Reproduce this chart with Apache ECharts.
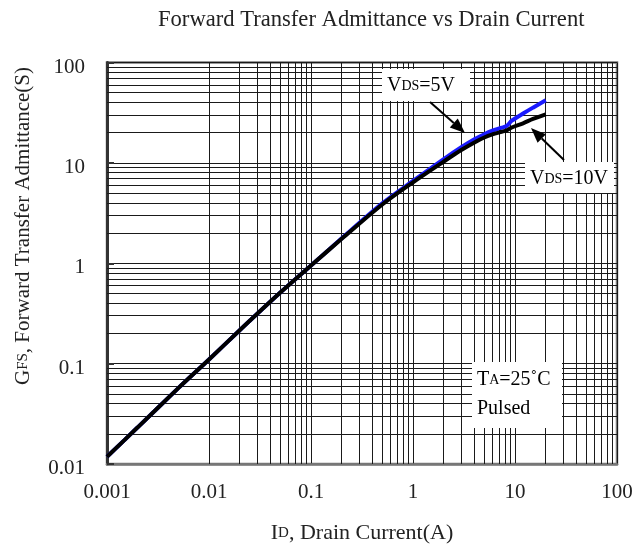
<!DOCTYPE html>
<html>
<head>
<meta charset="utf-8">
<script src="https://cdn.jsdelivr.net/npm/echarts@6/dist/echarts.min.js"></script>
<style>
html,body{margin:0;padding:0;background:#fff;}
#chart{width:638px;height:544px;}
</style>
</head>
<body>
<div id="chart"></div>
<script>
// ---- data ----
const drainCurrent = [0.001, 0.002, 0.005, 0.01, 0.02, 0.05, 0.1, 0.2, 0.5, 1, 2, 3, 4, 5, 6, 7.4, 8.3, 9.3, 12, 15, 20];
const gfs5V  = [0.0118, 0.0232, 0.057, 0.11, 0.215, 0.51, 0.95, 1.77, 3.95, 6.6, 10.9, 14.4, 17.2, 19.3, 20.9, 22.4, 23.4, 26.3, 31, 35.5, 42];
const gfs10V = [0.0118, 0.0232, 0.057, 0.11, 0.215, 0.51, 0.95, 1.75, 3.85, 6.4, 10.3, 13.5, 16.0, 17.9, 19.2, 20.4, 21.1, 22.5, 24.8, 27.4, 30.5];
const xTickLabels = ['0.001', '0.01', '0.1', '1', '10', '100'];
const yTickLabels = ['0.01', '0.1', '1', '10', '100'];
const titleText = 'Forward Transfer Admittance vs Drain Current';

// minor grid values (2..9 within each decade)
const minorX = [], minorY = [];
for (let e = -3; e < 2; e++) for (let m = 2; m <= 9; m++) minorX.push(m * Math.pow(10, e));
for (let e = -2; e < 2; e++) for (let m = 2; m <= 9; m++) minorY.push(m * Math.pow(10, e));

const FONT = '"Liberation Serif", "DejaVu Serif", serif';
const GRIDC = '#1a1a1a';

const chart = echarts.init(document.getElementById('chart'), null, {renderer: 'canvas'});

function arrow(x1, y1, x2, y2) {
  const dx = x2 - x1, dy = y2 - y1, L = Math.hypot(dx, dy);
  const ux = dx / L, uy = dy / L, hl = 15, hw = 6;
  const bx = x2 - hl * ux, by = y2 - hl * uy;
  const px = -uy * hw, py = ux * hw;
  return [
    {type: 'line', z: 120, shape: {x1: x1, y1: y1, x2: bx, y2: by}, style: {stroke: '#000', lineWidth: 2}},
    {type: 'polygon', z: 120, shape: {points: [[x2, y2], [bx + px, by + py], [bx - px, by - py]]}, style: {fill: '#000'}}
  ];
}

const rich = {
  b: {fontFamily: FONT, fontSize: 20, color: '#111'},
  s: {fontFamily: FONT, fontSize: 14, color: '#111'}
};

const option = {
  animation: false,
  backgroundColor: '#fff',
  grid: {left: 107, right: 21, top: 62.5, bottom: 80, containLabel: false, outerBoundsMode: 'none',
    show: true, borderColor: '#777', borderWidth: 2.5, backgroundColor: 'transparent'},
  xAxis: {
    type: 'log', logBase: 10, min: 0.001, max: 100,
    name: '{b|I}{s|D}{b|, Drain Current(A)}',
    nameLocation: 'middle', nameGap: 58,
    nameTextStyle: {rich: {b: {fontFamily: FONT, fontSize: 22, color: '#222'}, s: {fontFamily: FONT, fontSize: 15, color: '#222'}}},
    axisLine: {show: true, lineStyle: {color: '#777', width: 2.5}},
    axisTick: {show: false},
    axisLabel: {margin: 18, fontFamily: FONT, fontSize: 21, color: '#222',
      formatter: v => xTickLabels[Math.round(Math.log10(v)) + 3]},
    splitLine: {show: true, lineStyle: {color: GRIDC, width: 1}},
    minorTick: {show: false}, minorSplitLine: {show: false}
  },
  yAxis: {
    type: 'log', logBase: 10, min: 0.01, max: 100,
    axisLine: {show: true, lineStyle: {color: '#333', width: 3}},
    axisTick: {show: true, inside: true, length: 7, lineStyle: {color: '#333', width: 2}},
    axisLabel: {margin: 22, color: '#222',
      rich: {t: {fontFamily: FONT, fontSize: 21, color: '#222', padding: [9, 0, 0, 0]}},
      formatter: v => '{t|' + yTickLabels[Math.round(Math.log10(v)) + 2] + '}'},
    splitLine: {show: true, lineStyle: {color: GRIDC, width: 1}}
  },
  series: [
    {
      name: 'grid', type: 'line', data: [], silent: true, z: 1,
      markLine: {
        silent: true, z: 1, symbol: ['none', 'none'], label: {show: false},
        lineStyle: {type: 'solid', color: GRIDC, width: 1},
        emphasis: {disabled: true},
        data: minorX.map(v => ({xAxis: v})).concat(minorY.map(v => ({yAxis: v})))
      }
    },
    {
      name: 'VDS=5V', type: 'line', z: 3, smooth: 0.3, showSymbol: false, symbol: 'none',
      lineStyle: {color: '#1a1aff', width: 4},
      data: drainCurrent.map((x, i) => [x, gfs5V[i]])
    },
    {
      name: 'VDS=10V', type: 'line', z: 4, smooth: 0.3, showSymbol: false, symbol: 'none',
      lineStyle: {color: '#000', width: 4},
      data: drainCurrent.map((x, i) => [x, gfs10V[i]])
    }
  ],
  graphic: [
    {type: 'text', left: 158, top: 9, z: 100, style: {text: titleText, font: '22.6px ' + FONT, fill: '#222'}},
    {type: 'text', z: 100, x: 23, y: 226, rotation: Math.PI / 2,
      style: {text: '{b|G}{s|FS}{b|, Forward Transfer Admittance(S)}', align: 'center', verticalAlign: 'middle',
        rich: {b: {fontFamily: FONT, fontSize: 21, fill: '#222'}, s: {fontFamily: FONT, fontSize: 15, fill: '#222'}}}},
    // annotation boxes
    {type: 'rect', z: 100, shape: {x: 382, y: 69, width: 88, height: 32}, style: {fill: '#fff'}},
    {type: 'rect', z: 100, shape: {x: 525, y: 162, width: 89, height: 31}, style: {fill: '#fff'}},
    {type: 'rect', z: 100, shape: {x: 472, y: 362, width: 90, height: 66}, style: {fill: '#fff'}},
    {type: 'text', z: 110, x: 421, y: 86, style: {text: '{b|V}{s|DS}{b|=5V}', align: 'center', verticalAlign: 'middle', rich: rich}},
    {type: 'text', z: 110, x: 569, y: 179, style: {text: '{b|V}{s|DS}{b|=10V}', align: 'center', verticalAlign: 'middle', rich: rich}},
    {type: 'text', z: 110, x: 477, y: 380, style: {text: '{b|T}{s|A}{b|=25˚C}', align: 'left', verticalAlign: 'middle', rich: rich}},
    {type: 'text', z: 110, x: 477, y: 409, style: {text: '{b|Pulsed}', align: 'left', verticalAlign: 'middle', rich: rich}}
  ].concat(arrow(430, 102, 465, 133)).concat(arrow(564, 160, 531, 128))
};
chart.setOption(option);
</script>
</body>
</html>
